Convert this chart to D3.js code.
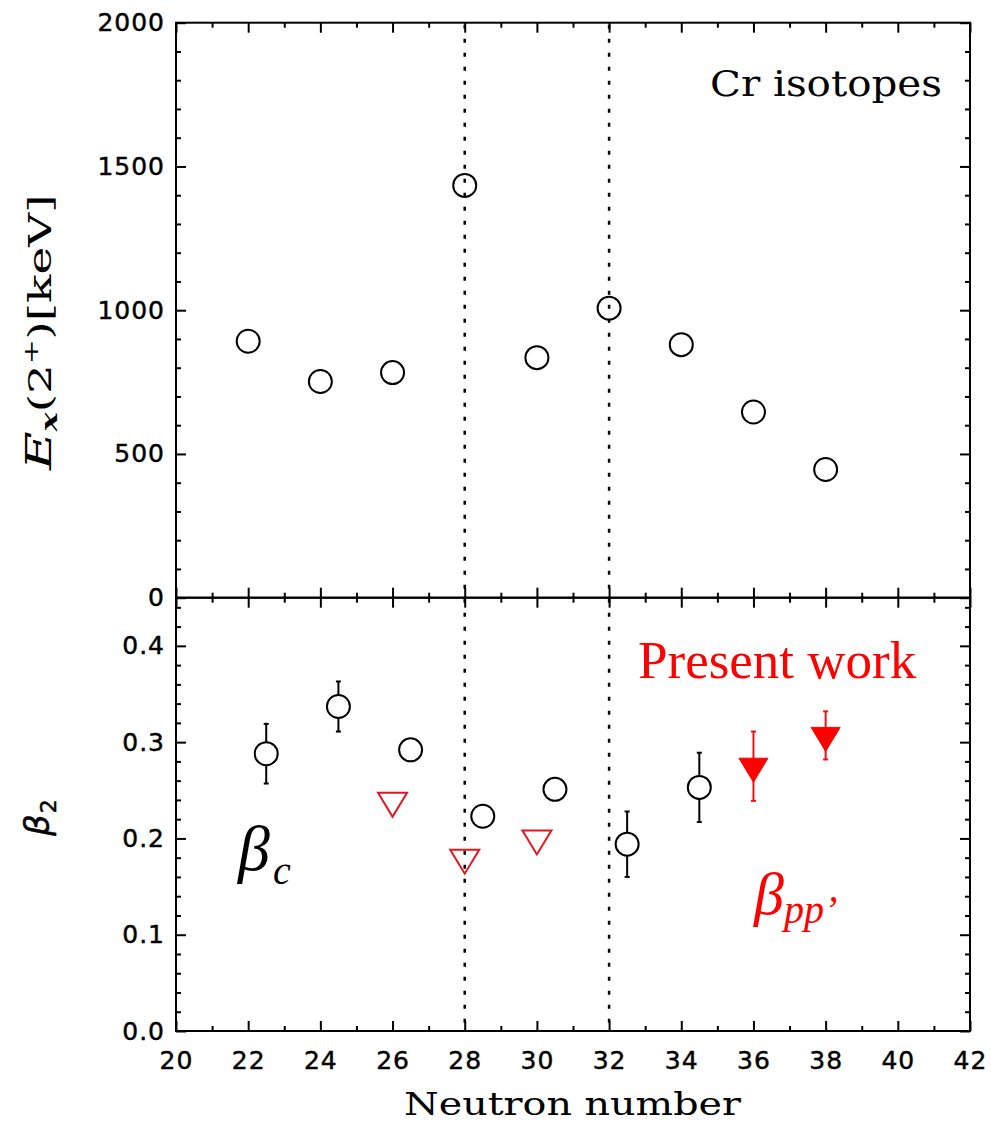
<!DOCTYPE html>
<html>
<head>
<meta charset="utf-8">
<script src="https://cdn.jsdelivr.net/npm/d3@7"></script>
<style>
  html, body { margin: 0; padding: 0; background: #fff; }
  svg { display: block; }
</style>
</head>
<body>
<svg id="chart" width="991" height="1123"></svg>
<script>
// Even-even Cr isotopes: neutron number and first 2+ excitation energy (keV)
const neutrons = [22, 24, 26, 28, 30, 32, 34, 36, 38];
const ex2plus  = [892, 752, 783, 1434, 835, 1007, 880, 646, 446];

// Deformation from Coulomb excitation (plotted half a unit to the right)
const betaCN   = [22, 24, 26, 28, 30, 32, 34];
const betaC    = [0.288, 0.337, 0.292, 0.223, 0.251, 0.194, 0.253];
const betaCErr = [0.031, 0.026, 0, 0, 0, 0.034, 0.036];

// Deformation from earlier (p,p') data
const betaPPN  = [26, 28, 30];
const betaPP   = [0.239, 0.180, 0.200];

// Deformation from the present (p,p') measurement
const presentN    = [36, 38];
const presentBeta = [0.275, 0.307];
const presentErr  = [0.036, 0.025];

// Axis ticks
const xTicks     = [20, 22, 24, 26, 28, 30, 32, 34, 36, 38, 40, 42];
const exTicks    = [0, 500, 1000, 1500, 2000];
const betaTicks  = [0.0, 0.1, 0.2, 0.3, 0.4];
const shellGaps  = [28, 32];

// ---------------------------------------------------------------
const svg = d3.select('#chart');
const X0 = 176, X1 = 970, YT = 22.7, YM = 597.7, YB = 1031;
const RED = '#ff0000';
const TICK_FONT = '"DejaVu Sans", sans-serif';
const MONO_SERIF = '"DejaVu Serif", serif';
const TIMES = '"Liberation Serif", "Times New Roman", serif';

const x = d3.scaleLinear().domain([20, 42]).range([X0, X1]);
const yEx = d3.scaleLinear().domain([0, 2000]).range([YM, YT]);
const yBeta = d3.scaleLinear().domain([0, 0.45]).range([YB, YM]);

const xMinor = d3.range(21, 42, 2);
const exMinor = d3.range(0, 2001, 100).filter(v => v % 500 !== 0);
const betaMinor = d3.range(0, 23).filter(i => i % 5 !== 0).map(i => i * 0.02);

function styleAxis(g) {
  g.select('.domain').remove();
  g.selectAll('.tick line').attr('stroke', '#000').attr('stroke-width', 2);
  g.selectAll('.tick text')
    .attr('fill', '#000')
    .attr('stroke', '#000').attr('stroke-width', 0.45)
    .style('font-family', TICK_FONT)
    .style('font-size', '25px')
    .attr('letter-spacing', 1);
}

function drawPanel(y, top, bottom, major, minor, fmt, showX) {
  const p = svg.append('g');
  // left axis with labels
  p.append('g').attr('transform', `translate(${X0},0)`)
    .call(d3.axisLeft(y).tickValues(major).tickSize(-10).tickPadding(11).tickFormat(fmt))
    .call(styleAxis);
  p.append('g').attr('transform', `translate(${X0},0)`)
    .call(d3.axisLeft(y).tickValues(minor).tickSize(-5).tickFormat(''))
    .call(styleAxis);
  // right axis, ticks only
  p.append('g').attr('transform', `translate(${X1},0)`)
    .call(d3.axisRight(y).tickValues(major).tickSize(-10).tickFormat(''))
    .call(styleAxis);
  p.append('g').attr('transform', `translate(${X1},0)`)
    .call(d3.axisRight(y).tickValues(minor).tickSize(-5).tickFormat(''))
    .call(styleAxis);
  // top edge
  p.append('g').attr('transform', `translate(0,${top})`)
    .call(d3.axisTop(x).tickValues(xTicks).tickSize(-10).tickFormat(''))
    .call(styleAxis);
  p.append('g').attr('transform', `translate(0,${top})`)
    .call(d3.axisTop(x).tickValues(xMinor).tickSize(-5).tickFormat(''))
    .call(styleAxis);
  // bottom edge
  p.append('g').attr('transform', `translate(0,${bottom})`)
    .call(d3.axisBottom(x).tickValues(xTicks).tickSize(-10).tickPadding(20)
      .tickFormat(showX ? d3.format('d') : ''))
    .call(styleAxis);
  p.append('g').attr('transform', `translate(0,${bottom})`)
    .call(d3.axisBottom(x).tickValues(xMinor).tickSize(-5).tickFormat(''))
    .call(styleAxis);
  // frame
  p.append('rect')
    .attr('x', X0).attr('y', top)
    .attr('width', X1 - X0).attr('height', bottom - top)
    .attr('fill', 'none').attr('stroke', '#000').attr('stroke-width', 2);
}

drawPanel(yEx, YT, YM, exTicks, exMinor, d3.format('d'), false);
drawPanel(yBeta, YM, YB, betaTicks, betaMinor, d3.format('.1f'), true);

// Shell-closure markers at N = 28 and N = 32
svg.append('g').selectAll('line').data(shellGaps).join('line')
  .attr('x1', d => x(d)).attr('x2', d => x(d))
  .attr('y1', YT + 2).attr('y2', YB)
  .attr('stroke', '#000').attr('stroke-width', 2.5)
  .attr('stroke-dasharray', '4,10');

const R = 11.5;

// Top panel: E(2+)
svg.append('g').selectAll('circle').data(neutrons).join('circle')
  .attr('cx', d => x(d))
  .attr('cy', (d, i) => yEx(ex2plus[i]))
  .attr('r', R)
  .attr('fill', 'none').attr('stroke', '#000').attr('stroke-width', 2);

// Bottom panel: Coulomb-excitation beta with error bars
const cData = betaCN.map((n, i) => ({ n: n + 0.5, v: betaC[i], e: betaCErr[i] }));
const cg = svg.append('g');
cData.filter(d => d.e > 0).forEach(d => {
  const cx = x(d.n), cy = yBeta(d.v);
  const yHi = yBeta(d.v + d.e), yLo = yBeta(d.v - d.e);
  const lines = [
    [cx, yHi, cx, cy - R], [cx, cy + R, cx, yLo],
    [cx - 2.5, yHi, cx + 2.5, yHi], [cx - 2.5, yLo, cx + 2.5, yLo]
  ];
  lines.forEach(l => cg.append('line')
    .attr('x1', l[0]).attr('y1', l[1]).attr('x2', l[2]).attr('y2', l[3])
    .attr('stroke', '#000').attr('stroke-width', 2));
});
cg.selectAll('circle').data(cData).join('circle')
  .attr('cx', d => x(d.n)).attr('cy', d => yBeta(d.v)).attr('r', R)
  .attr('fill', 'none').attr('stroke', '#000').attr('stroke-width', 2);

// Down-pointing triangle centred on its centroid
function triDown(w, h) {
  return `M${-w / 2},${-h / 3}L${w / 2},${-h / 3}L0,${2 * h / 3}Z`;
}

// Earlier (p,p') values: open red triangles
svg.append('g').selectAll('path').data(betaPPN).join('path')
  .attr('transform', (d, i) => `translate(${x(d)},${yBeta(betaPP[i])})`)
  .attr('d', triDown(29, 24))
  .attr('fill', 'none').attr('stroke', '#e8141c').attr('stroke-width', 2);

// Present work: filled red triangles with error bars
const pg = svg.append('g');
presentN.forEach((n, i) => {
  const cx = x(n);
  const yHi = yBeta(presentBeta[i] + presentErr[i]);
  const yLo = yBeta(presentBeta[i] - presentErr[i]);
  [[cx, yHi, cx, yLo], [cx - 2.5, yHi, cx + 2.5, yHi], [cx - 2.5, yLo, cx + 2.5, yLo]]
    .forEach(l => pg.append('line')
      .attr('x1', l[0]).attr('y1', l[1]).attr('x2', l[2]).attr('y2', l[3])
      .attr('stroke', '#e8141c').attr('stroke-width', 2));
});
pg.selectAll('path').data(presentN).join('path')
  .attr('transform', (d, i) => `translate(${x(d)},${yBeta(presentBeta[i])})`)
  .attr('d', triDown(29, 24))
  .attr('fill', RED).attr('stroke', RED).attr('stroke-width', 1);

// Text stretched horizontally (along its own baseline) to a given width,
// imitating the wide plotter glyphs of the axis titles.
function stretchedText(transform, target, size, build) {
  const g = svg.append('g').attr('transform', transform);
  const inner = g.append('g');
  const t = inner.append('text')
    .style('font-family', MONO_SERIF).style('font-size', size + 'px')
    .attr('fill', '#000');
  build(t);
  const w = t.node().getBBox().width;
  inner.attr('transform', `scale(${target / w},1)`);
  return t;
}

// Panel annotation
stretchedText('translate(710,96)', 232, 35, t => t.text('Cr isotopes'));

// X-axis title
stretchedText('translate(404,1115)', 338, 32, t => t.text('Neutron number'));

// Y-axis title, top panel
stretchedText('translate(51,470) rotate(-90)', 277, 32, t => {
  t.append('tspan').style('font-style', 'italic').style('font-size', '36px').text('E');
  t.append('tspan').style('font-style', 'italic').style('font-weight', 'bold')
    .style('font-size', '22px').attr('dy', 6).text('x');
  t.append('tspan').attr('dy', -6).text('(2');
  t.append('tspan').style('font-size', '20px').attr('dy', -13).text('+');
  t.append('tspan').attr('dy', 13).text(')[keV]');
});

// Y-axis title, bottom panel
const yb = svg.append('text')
  .attr('transform', 'translate(49,836) rotate(-90)')
  .style('font-family', TICK_FONT).style('font-size', '34px')
  .attr('fill', '#000').attr('stroke', '#000').attr('stroke-width', 0.5);
yb.append('tspan').style('font-style', 'italic').text('β');
yb.append('tspan').style('font-size', '22px').attr('dy', 7).attr('dx', 1).text('2');

// In-plot labels
svg.append('text')
  .attr('x', 638).attr('y', 678)
  .style('font-family', TIMES).style('font-size', '53px')
  .attr('fill', RED)
  .text('Present work');

const bc = svg.append('text')
  .attr('x', 238).attr('y', 870)
  .style('font-family', TIMES).style('font-style', 'italic').style('font-size', '64px')
  .attr('fill', '#000');
bc.append('tspan').text('β');
bc.append('tspan').style('font-size', '40px').attr('dy', 14).attr('dx', 3).text('c');

const bp = svg.append('text')
  .attr('x', 754).attr('y', 914)
  .style('font-family', TIMES).style('font-style', 'italic').style('font-size', '60px')
  .attr('fill', RED);
bp.append('tspan').text('β');
bp.append('tspan').style('font-size', '40px').attr('dy', 9).attr('dx', 0).text('pp’');
</script>
</body>
</html>
